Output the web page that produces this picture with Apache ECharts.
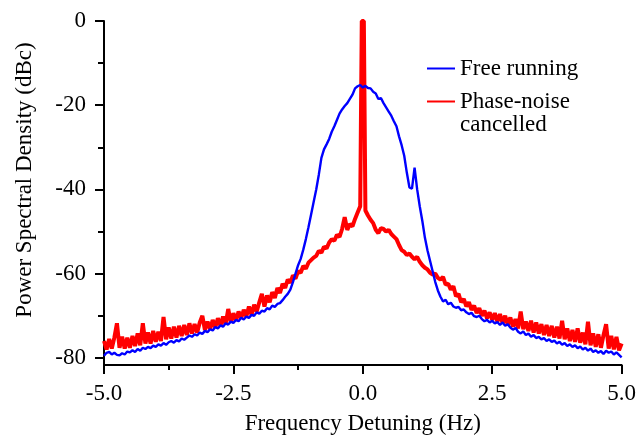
<!DOCTYPE html>
<html>
<head>
<meta charset="utf-8">
<script src="https://cdn.jsdelivr.net/npm/echarts@6/dist/echarts.min.js"></script>
<style>
  html, body { margin: 0; padding: 0; background: #fff; }
  #chart { width: 639px; height: 440px; }
</style>
</head>
<body>
<div id="chart"></div>
<script>
// Frequency detuning grid (Hz)
const detuning = [
  -5, -4.95, -4.9, -4.85, -4.8, -4.75, -4.7, -4.65, -4.6, -4.55,
  -4.5, -4.45, -4.4, -4.35, -4.3, -4.25, -4.2, -4.15, -4.1, -4.05,
  -4, -3.95, -3.9, -3.85, -3.8, -3.75, -3.7, -3.65, -3.6, -3.55,
  -3.5, -3.45, -3.4, -3.35, -3.3, -3.25, -3.2, -3.15, -3.1, -3.05,
  -3, -2.95, -2.9, -2.85, -2.8, -2.75, -2.7, -2.65, -2.6, -2.55,
  -2.5, -2.45, -2.4, -2.35, -2.3, -2.25, -2.2, -2.15, -2.1, -2.05,
  -2, -1.95, -1.9, -1.85, -1.8, -1.75, -1.7, -1.65, -1.6, -1.55,
  -1.5, -1.45, -1.4, -1.35, -1.3, -1.25, -1.2, -1.15, -1.1, -1.05,
  -1, -0.95, -0.9, -0.85, -0.8, -0.75, -0.7, -0.65, -0.6, -0.55,
  -0.5, -0.45, -0.4, -0.35, -0.3, -0.25, -0.2, -0.15, -0.1, -0.05,
  0,
  0.05, 0.1, 0.15, 0.2, 0.25, 0.3, 0.35, 0.4, 0.45, 0.5,
  0.55, 0.6, 0.65, 0.7, 0.75, 0.8, 0.85, 0.9, 0.95, 1,
  1.05, 1.1, 1.15, 1.2, 1.25, 1.3, 1.35, 1.4, 1.45, 1.5,
  1.55, 1.6, 1.65, 1.7, 1.75, 1.8, 1.85, 1.9, 1.95, 2,
  2.05, 2.1, 2.15, 2.2, 2.25, 2.3, 2.35, 2.4, 2.45, 2.5,
  2.55, 2.6, 2.65, 2.7, 2.75, 2.8, 2.85, 2.9, 2.95, 3,
  3.05, 3.1, 3.15, 3.2, 3.25, 3.3, 3.35, 3.4, 3.45, 3.5,
  3.55, 3.6, 3.65, 3.7, 3.75, 3.8, 3.85, 3.9, 3.95, 4,
  4.05, 4.1, 4.15, 4.2, 4.25, 4.3, 4.35, 4.4, 4.45, 4.5,
  4.55, 4.6, 4.65, 4.7, 4.75, 4.8, 4.85, 4.9, 4.95, 5
];

// Free running laser spectrum (dBc)
const freeRunning = [
  -79.5, -78.8, -78.6, -79.2, -78.8, -79.3, -79.4, -78.9, -79.2, -78.5,
  -78.7, -78.2, -78.6, -77.9, -78.3, -77.6, -77.9, -77.4, -77.7, -77.1,
  -77.4, -76.8, -77.1, -76.5, -76.9, -76.3, -76.0, -76.4, -75.8, -76.1,
  -75.4, -75.7, -75.2, -74.7, -75.0, -74.4, -74.7, -74.0, -74.3, -73.6,
  -73.9, -73.2, -73.5, -72.7, -73.0, -72.3, -72.6, -71.8, -72.1, -71.4,
  -71.7, -71.0, -71.3, -70.5, -70.9, -70.2, -70.5, -69.8, -70.0, -69.2,
  -69.5, -68.8, -69.0, -68.2, -68.5, -67.6, -67.9, -67.2, -67.0, -66.3,
  -65.5, -64.8, -63.8, -62.0, -60.0, -58.0, -56.5, -54.3, -51.8, -49.0,
  -46.0, -43.0, -40.0, -36.5, -32.5, -30.5, -29.3, -28.0, -26.3, -25.0,
  -23.5, -22.0, -21.0, -20.2, -19.5, -18.5, -17.5, -16.0, -15.5, -15.2,
  -15.8,
  -15.4, -15.9, -16.0, -16.8, -17.2, -18.5, -18.3, -19.5, -20.5, -21.5,
  -22.5, -23.8, -25.0, -27.4, -29.5, -32.0, -36.0, -39.5, -39.8, -34.8,
  -40.0, -44.0, -47.5, -51.5, -54.5, -57.0, -59.5, -62.0, -64.0, -65.5,
  -66.6, -66.2, -67.3, -66.9, -67.8, -68.1, -67.9, -68.7, -68.5, -69.2,
  -69.6, -69.3, -70.1, -70.3, -70.0, -70.8, -71.3, -71.0, -71.6, -71.2,
  -71.8, -71.5, -72.2, -71.6, -72.4, -72.0, -72.8, -73.3, -72.9, -73.8,
  -74.2, -73.7, -74.6, -74.2, -75.0, -74.6, -75.3, -75.0, -75.6, -75.3,
  -76.0, -75.6, -76.2, -75.9, -76.6, -76.2, -76.9, -76.5, -77.2, -76.8,
  -77.4, -77.0, -77.7, -77.3, -78.0, -77.6, -78.3, -77.8, -78.6, -78.2,
  -78.8, -78.4, -79.1, -78.3, -78.8, -78.5, -79.2, -78.7, -79.3, -79.9
];

// Phase-noise cancelled spectrum (dBc)
const cancelled = [
  -76.0, -78.0, -75.5, -77.8, -75.2, -71.8, -77.6, -75.0, -77.8, -75.2,
  -77.6, -74.8, -77.2, -74.2, -77.0, -71.8, -76.6, -74.0, -76.6, -73.6,
  -76.2, -73.8, -76.0, -70.3, -75.6, -72.8, -75.4, -72.6, -75.2, -72.4,
  -74.8, -72.2, -74.6, -71.8, -74.2, -72.0, -74.0, -71.6, -70.0, -73.4,
  -71.4, -73.2, -71.0, -72.8, -70.6, -72.4, -70.2, -72.0, -68.4, -71.6,
  -69.4, -71.2, -69.0, -70.6, -68.6, -70.2, -67.8, -69.8, -67.4, -69.0,
  -66.8, -64.8, -67.8, -65.2, -66.8, -64.4, -65.8, -63.4, -64.6, -62.4,
  -63.4, -61.4, -62.2, -60.4, -61.2, -59.4, -59.8, -58.2, -58.8, -57.4,
  -56.8, -56.2, -55.8, -54.6, -55.0, -53.6, -54.0, -52.6, -51.8, -52.2,
  -50.8, -51.3, -49.4, -46.6, -49.6, -48.2, -48.8, -47.0, -45.5, -44.0,
  0,
  -45.0, -46.2, -47.2, -48.0, -49.6, -50.4, -49.2, -49.4, -50.0, -49.6,
  -50.6, -51.2, -51.8, -53.2, -54.4, -54.8, -55.6, -55.2, -56.0, -56.6,
  -56.0, -57.2, -58.0, -58.6, -59.0, -59.8, -60.2, -60.0, -61.0, -61.4,
  -60.8, -62.6, -62.4, -63.8, -63.0, -65.4, -64.8, -66.8, -66.0, -67.8,
  -66.8, -68.6, -67.6, -69.4, -68.2, -70.0, -68.8, -70.6, -69.2, -71.0,
  -69.4, -71.4, -69.6, -71.8, -70.0, -72.2, -70.4, -72.6, -70.8, -73.0,
  -69.0, -73.2, -71.4, -73.6, -71.2, -74.0, -71.6, -74.2, -72.0, -74.6,
  -72.2, -74.8, -72.4, -75.2, -72.6, -75.4, -71.2, -75.6, -73.0, -76.0,
  -73.4, -76.2, -73.0, -76.4, -74.0, -76.8, -71.4, -77.0, -74.2, -77.4,
  -74.4, -77.6, -74.6, -72.0, -77.8, -74.8, -78.0, -75.0, -78.2, -76.6
];

// Flanks of the narrow carrier peak in the cancelled spectrum
const carrierDetuning = [-0.02, 0.02];
const carrierDb = [0, 0];

// Axis ticks
const yMajorTicks = [0, -20, -40, -60, -80];
const yMinorTicks = [-10, -30, -50, -70];
const seriesNames = ['Free running', 'Phase-noise cancelled'];

const FONT = 'Liberation Serif';
const Y_MIN = -81.7;
const pairs = (xs, ys) => xs.map((x, i) => [x, ys[i]]);
const byFreq = (a, b) => a[0] - b[0];

const cancelledData = pairs(detuning, cancelled)
  .concat(pairs(carrierDetuning, carrierDb))
  .sort(byFreq);

const chart = echarts.init(document.getElementById('chart'), null, { renderer: 'canvas' });

const axisLine = { show: true, onZero: false, lineStyle: { color: '#000', width: 2 } };
const legendBase = {
  left: 427, padding: 0,
  itemWidth: 28, itemHeight: 2,
  icon: 'rect',
  itemStyle: { borderWidth: 0 },
  textStyle: { fontFamily: FONT, fontSize: 23, color: '#000', lineHeight: 23 }
};

chart.setOption({
  animation: false,
  backgroundColor: '#fff',
  grid: { left: 104, right: 16, top: 21, bottom: 74, containLabel: false },
  legend: [
    Object.assign({}, legendBase, { data: [seriesNames[0]], top: 57 }),
    Object.assign({}, legendBase, {
      data: [seriesNames[1]], top: 67,
      // blank first line keeps the icon level with "Phase-noise"
      formatter: () => '\nPhase-noise\ncancelled'
    })
  ],
  xAxis: {
    type: 'value', min: -5, max: 5, interval: 2.5,
    axisLine,
    axisTick: { show: true, inside: false, length: 9, lineStyle: { color: '#000', width: 2 } },
    minorTick: { show: true, splitNumber: 2, length: 5, lineStyle: { color: '#000', width: 2 } },
    splitLine: { show: false },
    minorSplitLine: { show: false },
    axisLabel: {
      margin: 17, color: '#000', fontFamily: FONT, fontSize: 23,
      formatter: v => v.toFixed(1)
    },
    name: 'Frequency Detuning (Hz)',
    nameLocation: 'middle', nameGap: 47,
    nameTextStyle: { fontFamily: FONT, fontSize: 23, color: '#000' }
  },
  yAxis: [
    {
      type: 'value', min: Y_MIN, max: 0,
      axisLine,
      axisTick: { show: true, inside: false, length: 9, customValues: yMajorTicks, lineStyle: { color: '#000', width: 2 } },
      axisLabel: { customValues: yMajorTicks, margin: 18, color: '#000', fontFamily: FONT, fontSize: 23 },
      splitLine: { show: false },
      name: 'Power Spectral Density (dBc)',
      nameLocation: 'middle', nameGap: 68,
      nameTextStyle: { fontFamily: FONT, fontSize: 23, color: '#000', padding: [0, 0, 0, 26] }
    },
    {
      type: 'value', min: Y_MIN, max: 0, position: 'left',
      axisLine: { show: false, onZero: false },
      axisTick: { show: true, inside: false, length: 6, customValues: yMinorTicks, lineStyle: { color: '#000', width: 2 } },
      axisLabel: { show: false },
      splitLine: { show: false }
    }
  ],
  series: [
    {
      name: seriesNames[1], type: 'line', yAxisIndex: 0,
      data: cancelledData,
      symbol: 'none', z: 2,
      lineStyle: { color: '#ff0000', width: 4 },
      itemStyle: { color: '#ff0000' }
    },
    {
      name: seriesNames[0], type: 'line', yAxisIndex: 0,
      data: pairs(detuning, freeRunning),
      symbol: 'none', z: 3,
      lineStyle: { color: '#0000ff', width: 2.4 },
      itemStyle: { color: '#0000ff' }
    }
  ]
});
</script>
</body>
</html>
